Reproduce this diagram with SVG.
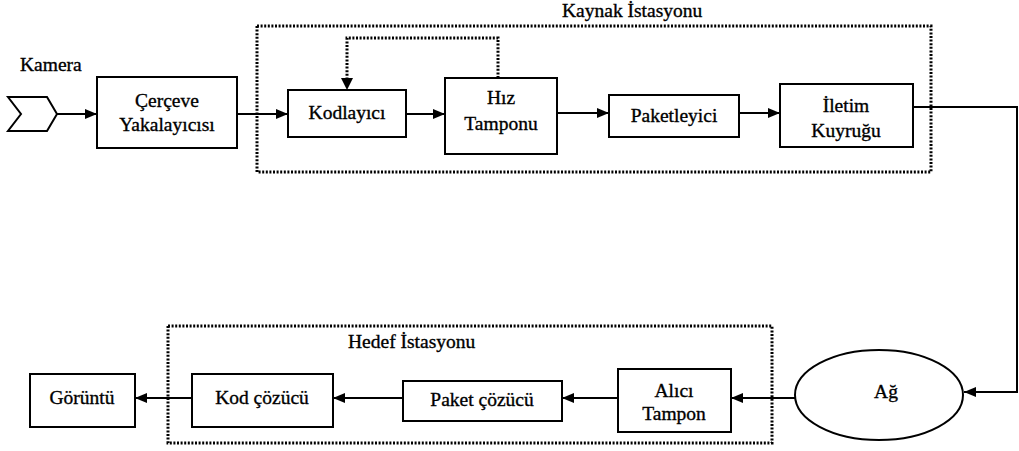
<svg xmlns="http://www.w3.org/2000/svg" width="1019" height="451" viewBox="0 0 1019 451" font-family="Liberation Serif, serif">
  <style>
    .box { fill: #fff; stroke: #000; stroke-width: 2; }
    .grp { fill: none; stroke: #000; stroke-width: 3; stroke-dasharray: 2 1.6; }
    .ln { fill: none; stroke: #000; stroke-width: 2; }
    .dot { fill: none; stroke: #000; stroke-width: 3; stroke-dasharray: 2 1.6; }
    text { font-size: 19.5px; fill: #000; stroke: #000; stroke-width: 0.35; text-anchor: middle; }
    .lbl { text-anchor: start; }
  </style>
  <defs>
    <marker id="arr" viewBox="0 0 12 10" refX="12" refY="5" markerWidth="12" markerHeight="10" markerUnits="userSpaceOnUse" orient="auto">
      <path d="M0,0 L12,5 L0,10 Z" fill="#000"/>
    </marker>
  </defs>

  <!-- station frames -->
  <g id="kaynak-istasyonu">
    <rect class="grp" x="257" y="26" width="674" height="146"/>
    <text class="lbl" x="562" y="17">Kaynak İstasyonu</text>
  </g>
  <g id="hedef-istasyonu">
    <rect class="grp" x="168" y="326" width="604" height="117"/>
    <text class="lbl" x="348" y="348">Hedef İstasyonu</text>
  </g>

  <!-- connectors -->
  <g id="connectors">
    <line class="ln" x1="57" y1="114" x2="97" y2="114" marker-end="url(#arr)"/>
    <line class="ln" x1="237" y1="114" x2="288" y2="114" marker-end="url(#arr)"/>
    <line class="ln" x1="406" y1="114" x2="445" y2="114" marker-end="url(#arr)"/>
    <polyline class="dot" points="498,78 498,38 347,38 347,80"/>
    <path d="M341,78 L353,78 L347,90 Z" fill="#000"/>
    <line class="ln" x1="557" y1="113" x2="609" y2="113" marker-end="url(#arr)"/>
    <line class="ln" x1="739" y1="113" x2="780" y2="113" marker-end="url(#arr)"/>
    <polyline class="ln" points="913,107 1017,107 1017,392 964,392" marker-end="url(#arr)"/>
    <line class="ln" x1="795" y1="398" x2="731" y2="398" marker-end="url(#arr)"/>
    <line class="ln" x1="618" y1="398" x2="562" y2="398" marker-end="url(#arr)"/>
    <line class="ln" x1="403" y1="398" x2="333" y2="398" marker-end="url(#arr)"/>
    <line class="ln" x1="192" y1="398" x2="135" y2="398" marker-end="url(#arr)"/>
  </g>

  <!-- nodes -->
  <g id="kamera">
    <text class="lbl" x="20" y="71">Kamera</text>
    <polygon class="box" points="8,97 47,97 57,114 47,131 8,131 21,114"/>
  </g>
  <g id="cerceve-yakalayicisi">
    <rect class="box" x="97" y="77" width="140" height="71"/>
    <text x="167" y="107">Çerçeve</text>
    <text x="167" y="131">Yakalayıcısı</text>
  </g>
  <g id="kodlayici">
    <rect class="box" x="288" y="90" width="118" height="47"/>
    <text x="347" y="119">Kodlayıcı</text>
  </g>
  <g id="hiz-tamponu">
    <rect class="box" x="445" y="78" width="112" height="76"/>
    <text x="501" y="104">Hız</text>
    <text x="501" y="130">Tamponu</text>
  </g>
  <g id="paketleyici">
    <rect class="box" x="609" y="95" width="130" height="42"/>
    <text x="674" y="122">Paketleyici</text>
  </g>
  <g id="iletim-kuyrugu">
    <rect class="box" x="780" y="84" width="133" height="63"/>
    <text x="846" y="112">İletim</text>
    <text x="846" y="137">Kuyruğu</text>
  </g>
  <g id="ag">
    <ellipse class="box" cx="879" cy="395" rx="84" ry="45"/>
    <text x="886" y="398">Ağ</text>
  </g>
  <g id="alici-tampon">
    <rect class="box" x="618" y="369" width="113" height="63"/>
    <text x="674" y="397">Alıcı</text>
    <text x="674" y="420">Tampon</text>
  </g>
  <g id="paket-cozucu">
    <rect class="box" x="403" y="381" width="159" height="40"/>
    <text x="482" y="406">Paket çözücü</text>
  </g>
  <g id="kod-cozucu">
    <rect class="box" x="192" y="374" width="141" height="53"/>
    <text x="262" y="404">Kod çözücü</text>
  </g>
  <g id="goruntu">
    <rect class="box" x="30" y="374" width="105" height="53"/>
    <text x="82" y="404">Görüntü</text>
  </g>
</svg>
